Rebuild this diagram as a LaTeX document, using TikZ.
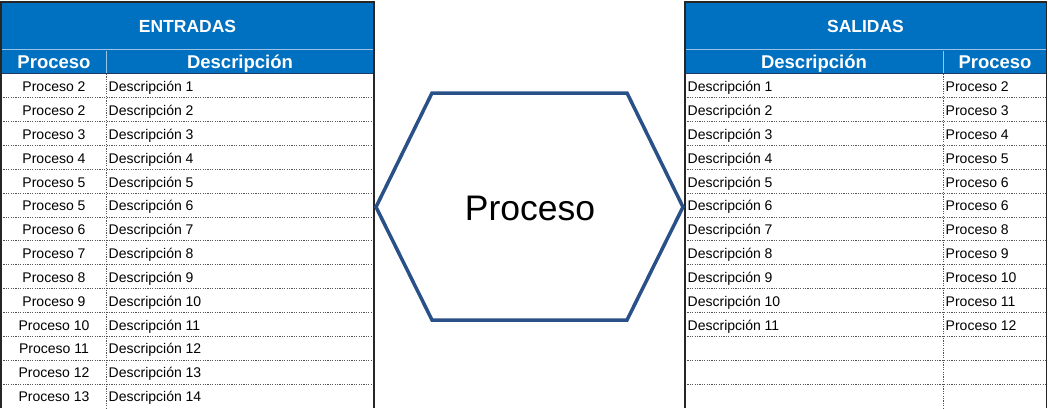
\documentclass[tikz,border=0pt]{standalone}
\usepackage{fontspec}
\setmainfont{Liberation Sans}
\definecolor{hdr}{HTML}{0070C0}
\definecolor{hdrline}{HTML}{9DC3E6}
\definecolor{hdrdark}{HTML}{1F3864}
\definecolor{hexc}{RGB}{41,80,135}
\definecolor{sep}{HTML}{555555}
\begin{document}
\begin{tikzpicture}[x=1pt,y=-1pt,
  cell/.style={font=\fontsize{14}{16}\selectfont, inner sep=0, text=black},
  title/.style={font=\fontsize{17.5}{20}\selectfont\bfseries, text=white, inner sep=0, anchor=base},
  subtitle/.style={font=\fontsize{18.5}{21}\selectfont\bfseries, text=white, inner sep=0, anchor=base},
  rowsep/.style={sep, line width=1pt, dash pattern=on 1.2pt off 1.2pt},
  border/.style={black!85, line width=1.3pt},
  hexline/.style={hexc, line width=3.5pt, line join=miter}]
\useasboundingbox (0,0) rectangle (1048,408);
% ---------- left table (ENTRADAS) ----------
\fill[hdr] (1,2) rectangle (374,73);
\draw[hdrline, line width=1.5pt] (1,49.5) -- (374,49.5);
\draw[hdrline, line width=1pt] (106,50.5) -- (106,73);
\draw[hdrdark, line width=1pt] (1,73.5) -- (374,73.5);
\foreach \k in {1,...,13} \draw[rowsep] (1,{74+23.85*\k}) -- (374,{74+23.85*\k});
\draw[rowsep] (106,74) -- (106,408);
\draw[border] (1,408) -- (1,2) -- (374,2) -- (374,408);
\node[title] (lt) at (187.5,32.3) {ENTRADAS};
\node[subtitle] (lph) at (54,68.3) {Proceso};
\node[subtitle] (ldh) at (240,68.3) {Descripción};
\foreach \p/\d [count=\i] in {2/1,2/2,3/3,4/4,5/5,5/6,6/7,7/8,8/9,9/10,10/11,11/12,12/13,13/14}{
  \node[cell, anchor=base] (lp\i) at (54,{74+23.85*(\i-1)+17.6}) {Proceso \p};
  \node[cell, anchor=base west] (ld\i) at (108.5,{74+23.85*(\i-1)+17.6}) {Descripción \d};
}
% ---------- right table (SALIDAS) ----------
\fill[hdr] (685,2) rectangle (1046.5,73);
\draw[hdrline, line width=1.5pt] (685,49.5) -- (1046.5,49.5);
\draw[hdrline, line width=1pt] (943,50.5) -- (943,73);
\draw[hdrdark, line width=1pt] (685,73.5) -- (1046.5,73.5);
\foreach \k in {1,...,13} \draw[rowsep] (685,{74+23.85*\k}) -- (1046.5,{74+23.85*\k});
\draw[rowsep] (943,74) -- (943,408);
\draw[border] (685,408) -- (685,2) -- (1046.5,2) -- (1046.5,408);
\node[title] (rt) at (865.5,32.3) {SALIDAS};
\node[subtitle] (rdh) at (814,68.3) {Descripción};
\node[subtitle] (rph) at (995,68.3) {Proceso};
\foreach \p [count=\i] in {2,3,4,5,6,6,8,9,10,11,12}{
  \node[cell, anchor=base west] (rd\i) at (687.5,{74+23.85*(\i-1)+17.6}) {Descripción \i};
  \node[cell, anchor=base west] (rp\i) at (945.5,{74+23.85*(\i-1)+17.6}) {Proceso \p};
}
% ---------- hexagon ----------
\draw[hexline] (376,207) -- (432,93) -- (627,93) -- (683,207) -- (627,320) -- (432,320) -- cycle;
\node[font=\fontsize{35.5}{40}\selectfont, inner sep=0] (proc) at (530,208) {Proceso};
\end{tikzpicture}
\end{document}
